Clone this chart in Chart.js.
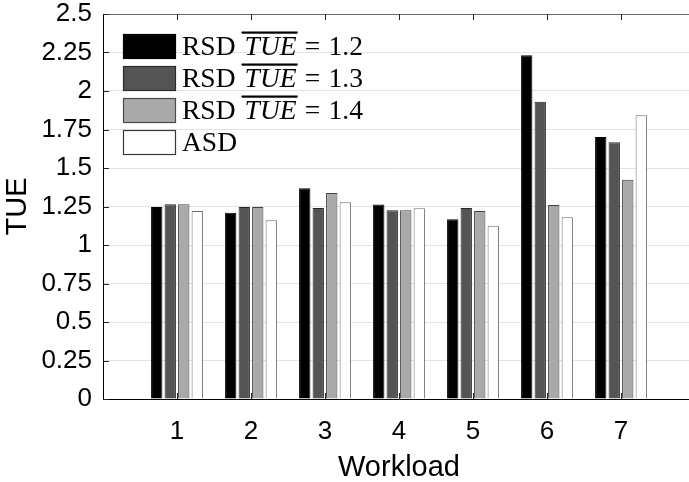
<!DOCTYPE html>
<html>
<head>
<meta charset="utf-8">
<script src="https://cdn.jsdelivr.net/npm/chart.js@4/dist/chart.umd.min.js"></script>
<style>
  html, body { margin: 0; padding: 0; background: #fff; overflow: hidden; width: 689px; height: 482px; }
  #wrap { position: relative; width: 700px; height: 482px; }
</style>
</head>
<body>
<div id="wrap"><canvas id="c" width="700" height="482"></canvas></div>
<script>
// Workload categories and TUE per scheduling policy
const workloads = ['1', '2', '3', '4', '5', '6', '7'];
const rsd12 = [1.246, 1.209, 1.369, 1.263, 1.168, 2.232, 1.702];
const rsd13 = [1.265, 1.246, 1.241, 1.226, 1.241, 1.931, 1.668];
const rsd14 = [1.265, 1.246, 1.337, 1.226, 1.220, 1.259, 1.423];
const asd   = [1.220, 1.161, 1.278, 1.239, 1.125, 1.181, 1.843];

// Legend entries: policy name and the target mean TUE (none for ASD)
const seriesNames   = ['RSD', 'RSD', 'RSD', 'ASD'];
const seriesTargets = ['1.2', '1.3', '1.4', null];

const yMin = 0, yMax = 2.5, yStep = 0.25;

const fills   = ['#000000', '#545454', '#a9a9a9', '#ffffff'];
const borders = ['#000000', '#262626', '#404040', '#6e6e6e'];
const swatchBorders = ['#000000', '#2a2a2a', '#4a4a4a', '#3a3a3a'];

// empty slot on each side so the axis runs from 0 to 8
const labels = ['', ...workloads, ''];
const pad = arr => [null, ...arr, null];
const series = [rsd12, rsd13, rsd14, asd];

const SANS = "'Liberation Sans', Arial, Helvetica, sans-serif";
const SERIF = "'Liberation Serif', 'Times New Roman', serif";

const datasets = series.map((vals, i) => ({
  label: seriesNames[i] + (seriesTargets[i] ? ' TUE = ' + seriesTargets[i] : ''),
  data: pad(vals),
  backgroundColor: fills[i],
  borderColor: borders[i],
  borderWidth: 1,
  borderSkipped: 'start'
}));

// inward tick marks on left, top and bottom, plus the top frame line
const frame = {
  id: 'frame',
  afterDatasetsDraw(chart) {
    const { ctx, chartArea: a, scales: { x, y } } = chart;
    ctx.save();
    ctx.lineWidth = 1;
    ctx.strokeStyle = '#6a6a6a';
    ctx.beginPath();
    ctx.moveTo(a.left, a.top + 0.5);
    ctx.lineTo(a.right, a.top + 0.5);
    ctx.stroke();

    ctx.strokeStyle = '#262626';
    ctx.beginPath();
    y.ticks.forEach(t => {
      const py = Math.round(y.getPixelForValue(t.value)) + 0.5;
      ctx.moveTo(a.left, py);
      ctx.lineTo(a.left + 6, py);
    });
    workloads.forEach((w, i) => {
      const px = Math.round(x.getPixelForValue(i + 1)) + 0.5;
      ctx.moveTo(px, a.top);
      ctx.lineTo(px, a.top + 6);
      ctx.moveTo(px, a.bottom);
      ctx.lineTo(px, a.bottom - 6);
    });
    ctx.stroke();
    ctx.restore();
  }
};

// legend with an overlined math symbol, drawn inside the plot area
const mathLegend = {
  id: 'mathLegend',
  afterDraw(chart) {
    const { ctx, chartArea: a } = chart;
    const swX = a.left + 20, swW = 53, swH = 25, top0 = a.top + 20, step = 32;
    const textX = swX + 59;
    const fs = 27;
    const upright = fs + 'px ' + SERIF;
    const italic = 'italic ' + fs + 'px ' + SERIF;

    ctx.save();
    ctx.textBaseline = 'alphabetic';
    ctx.textAlign = 'left';
    ctx.fillStyle = '#000';

    // common horizontal scale so the widest row spans 181 px
    ctx.font = upright;
    const wName = ctx.measureText('RSD').width;
    const wSpace = fs * 0.33;
    const wThick = fs * 0.3;
    const wEq = ctx.measureText('=').width;
    const wNum = ctx.measureText('1.2').width;
    ctx.font = italic;
    const wSym = ctx.measureText('TUE').width;
    const natural = wName + wSpace + wSym + wThick * 2 + wEq + wNum;
    const sx = 181 / natural;

    chart.data.datasets.forEach((ds, i) => {
      const top = top0 + step * i;
      ctx.fillStyle = ds.backgroundColor;
      ctx.fillRect(swX, top, swW, swH);
      ctx.strokeStyle = swatchBorders[i];
      ctx.lineWidth = 1.2;
      ctx.strokeRect(swX + 0.5, top + 0.5, swW - 1, swH - 1);

      const base = top + 20.5;
      ctx.save();
      ctx.translate(textX, base);
      ctx.scale(sx, 1);
      ctx.fillStyle = '#000';
      let cx = 0;
      ctx.font = upright;
      ctx.fillText(seriesNames[i], cx, 0);
      if (seriesTargets[i]) {
        cx += ctx.measureText(seriesNames[i]).width + wSpace;
        ctx.font = italic;
        ctx.fillText('TUE', cx, 0);
        // overline
        ctx.fillRect(cx - 3, -23, wSym + 4, 2.2);
        cx += wSym + wThick;
        ctx.font = upright;
        ctx.fillText('=', cx, 0);
        cx += wEq + wThick;
        ctx.fillText(seriesTargets[i], cx, 0);
      }
      ctx.restore();
    });
    ctx.restore();
  }
};

new Chart(document.getElementById('c'), {
  type: 'bar',
  data: { labels: labels, datasets: datasets },
  options: {
    responsive: false,
    animation: false,
    devicePixelRatio: 1,
    layout: { padding: { left: 0, top: 14, right: 5, bottom: 0 } },
    plugins: { legend: { display: false }, tooltip: { enabled: false } },
    datasets: { bar: { categoryPercentage: 0.73, barPercentage: 0.84 } },
    scales: {
      x: {
        offset: false,
        grid: { display: false, drawTicks: false },
        border: { display: true, color: '#000', width: 1 },
        ticks: {
          padding: 20,
          autoSkip: false,
          maxRotation: 0,
          color: '#000',
          font: { family: SANS, size: 26, lineHeight: 1 },
          callback: (v, i) => labels[i]
        },
        title: {
          display: true, text: 'Workload', color: '#000',
          font: { family: SANS, size: 29, lineHeight: 1 },
          padding: { top: 0, bottom: 0 }
        },
        afterFit: s => { s.height = 83; s.paddingLeft = 0; s.paddingRight = 0; }
      },
      y: {
        min: yMin, max: yMax,
        grid: { color: '#e3e3e3', lineWidth: 1, drawTicks: false },
        border: { display: true, color: '#000', width: 1 },
        ticks: {
          stepSize: yStep,
          padding: 11,
          color: '#000',
          font: { family: SANS, size: 26, lineHeight: 1 },
          callback: v => String(Number(v.toFixed(2)))
        },
        title: {
          display: true, text: 'TUE', color: '#000',
          font: { family: SANS, size: 29, lineHeight: 1 },
          padding: { top: 3, bottom: 0 }
        },
        afterFit: s => { s.width = 103; s.paddingTop = 0; s.paddingBottom = 0; }
      }
    }
  },
  plugins: [frame, mathLegend]
});
</script>
</body>
</html>
